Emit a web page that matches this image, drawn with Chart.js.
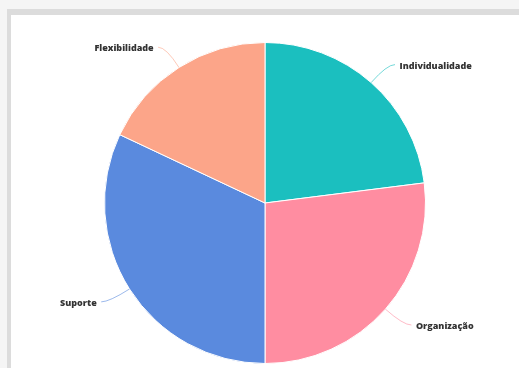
<!DOCTYPE html>
<html>
<head>
<meta charset="utf-8">
<script src="https://cdn.jsdelivr.net/npm/chart.js@4"></script>
<style>
  html,body{ margin:0; padding:0; background:#f5f5f5; width:519px; height:368px; overflow:hidden; }
  .card{ position:absolute; left:7px; top:9px; width:600px; height:400px; background:#fff;
    border-top:6px solid #dcdcdc; border-left:4px solid #dcdcdc; }
  #c{ position:absolute; left:0; top:0; }
</style>
</head>
<body>
<div class="card"></div>
<canvas id="c" width="519" height="368"></canvas>
<script>
// ── DATA ──
const labels=['Individualidade','Organização','Suporte','Flexibilidade'];
const values=[23,27,32,18];
const colors=['#1bbfbf','#ff8da1','#5a8ade','#fca589'];

// ── LABEL LINES ──
const outerLabels={
  id:'outerLabels',
  afterDatasetsDraw(chart){
    const ctx=chart.ctx;
    const meta=chart.getDatasetMeta(0);
    ctx.save();
    ctx.font='800 9px "Open Sans", sans-serif';
    ctx.textBaseline='middle';
    meta.data.forEach((arc,i)=>{
      const a=(arc.startAngle+arc.endAngle)/2;
      const r=arc.outerRadius;
      const cx=arc.x, cy=arc.y;
      const x0=cx+Math.cos(a)*r, y0=cy+Math.sin(a)*r;
      const x1=cx+Math.cos(a)*(r+24), y1=cy+Math.sin(a)*(r+24);
      const right=Math.cos(a)>=0;
      const x2=x1+(right?8:-8);
      ctx.strokeStyle=colors[i]; ctx.globalAlpha=0.6; ctx.lineWidth=1;
      ctx.beginPath(); ctx.moveTo(x0,y0); ctx.quadraticCurveTo(x1,y1,x2,y1); ctx.stroke();
      ctx.globalAlpha=1;
      ctx.fillStyle='#333';
      ctx.textAlign=right?'left':'right';
      ctx.fillText(labels[i], x2+(right?4.5:-4.5), y1+1.5);
    });
    ctx.restore();
  }
};

new Chart(document.getElementById('c'),{
  type:'pie',
  data:{ labels, datasets:[{ data:values, backgroundColor:colors, borderColor:'#fff', borderWidth:1 }] },
  options:{ responsive:false, animation:false,
    layout:{ padding:{ top:42, bottom:4, left:80, right:69 } },
    plugins:{ legend:{display:false}, tooltip:{enabled:false} }
  },
  plugins:[outerLabels]
});
</script>
</body>
</html>
